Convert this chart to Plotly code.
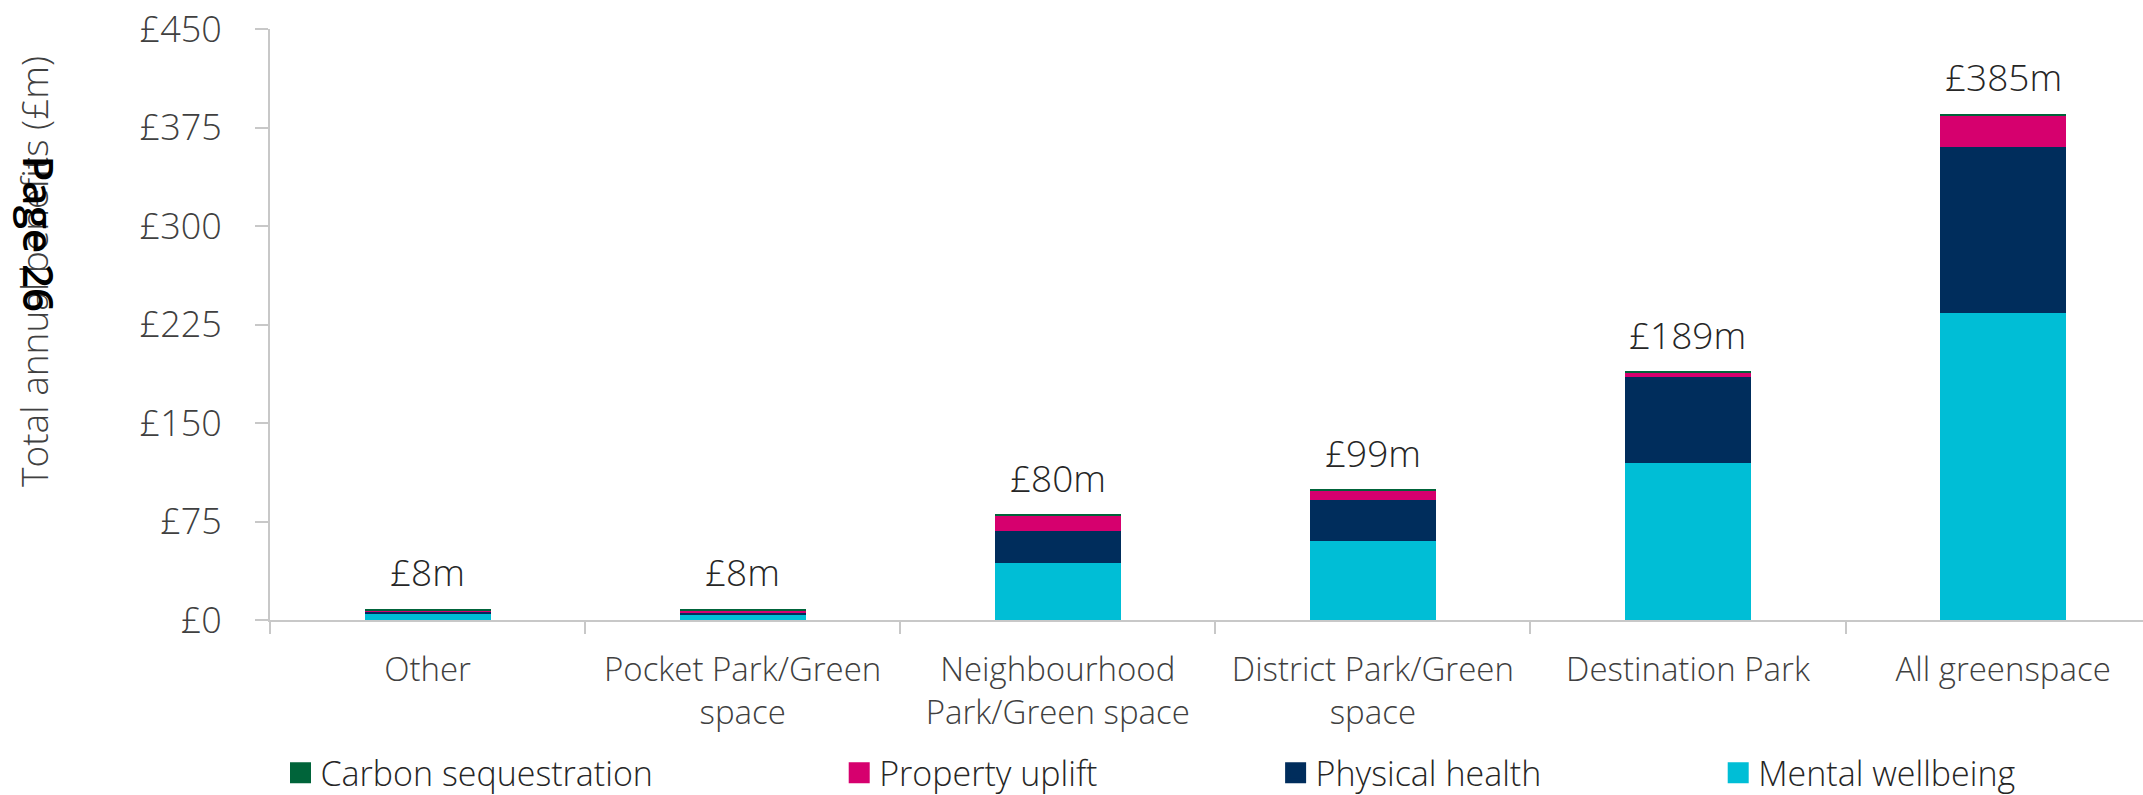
import plotly.graph_objects as go

# Categories of greenspace and their x-axis labels
categories = ["Other", "Pocket Park", "Neighbourhood Park", "District Park",
              "Destination Park", "All greenspace"]
tick_labels = ["Other", "Pocket Park/Green<br>space", "Neighbourhood<br>Park/Green space",
               "District Park/Green<br>space", "Destination Park", "All greenspace"]

# Annual benefit components (£m), stacked bottom to top
mental_wellbeing = [4.3, 3.6, 43.5, 59.8, 119.5, 233.4]
physical_health = [1.8, 2.0, 24.2, 31.6, 65.5, 126.6]
property_uplift = [1.3, 1.8, 11.6, 7.0, 3.4, 24.0]
carbon_sequestration = [0.6, 0.6, 0.7, 0.6, 0.6, 1.0]

y_ticks = [0, 75, 150, 225, 300, 375, 450]

series = [
    ("Mental wellbeing", mental_wellbeing, "#00BED6", "legend4"),
    ("Physical health", physical_health, "#002D5C", "legend3"),
    ("Property uplift", property_uplift, "#D6006E", "legend2"),
    ("Carbon sequestration", carbon_sequestration, "#00643A", "legend"),
]

FONT = "Open Sans"
TEXT = "#262626"
AXIS = "#c8c8c8"
W = 300  # light text weight

fig = go.Figure()
for name, vals, color, lg in series:
    fig.add_trace(go.Bar(x=categories, y=vals, name=name, marker_color=color,
                         marker_line_width=0, showlegend=False))

# Legend entries with larger square swatches
for name, vals, color, lg in series:
    fig.add_trace(go.Scatter(x=[None], y=[None], mode="markers", name=name,
                             marker=dict(symbol="square", size=16, color=color,
                                         line=dict(color=color, width=5)),
                             legend=lg, showlegend=True))

# Total labels above each stack
totals = [sum(v) for v in zip(mental_wellbeing, physical_health,
                              property_uplift, carbon_sequestration)]
for cat, tot in zip(categories, totals):
    fig.add_annotation(x=cat, y=tot, text=f"£{tot:.0f}m", showarrow=False,
                       yanchor="bottom", yshift=10,
                       font=dict(family=FONT, size=37, color=TEXT, weight=W))

# Y-axis title, set a little above the axis centre
fig.add_annotation(xref="paper", yref="paper", x=-0.126, y=0.589,
                   text="Total annual benefits (£m)", textangle=-90, showarrow=False,
                   xanchor="center", yanchor="middle",
                   font=dict(family=FONT, size=37, color="#404040", weight=W))

# Page marker overprinted on the axis title
fig.add_annotation(xref="paper", yref="paper", x=-0.123, y=0.653,
                   text="Page 26", textangle=90, showarrow=False,
                   xanchor="center", yanchor="middle",
                   font=dict(family=FONT, size=42, color="#000000", weight=600))

legend_common = dict(orientation="h", yanchor="middle", y=-0.259, xanchor="left",
                     bgcolor="rgba(0,0,0,0)", borderwidth=0, itemsizing="trace",
                     font=dict(family=FONT, size=34, color=TEXT, weight=W))

fig.update_layout(
    width=2143, height=795,
    margin=dict(l=270, r=0, t=29, b=175, autoexpand=False),
    paper_bgcolor="white", plot_bgcolor="white",
    barmode="stack", bargap=0.6,
    font=dict(family=FONT, color=TEXT),
    legend=dict(x=0.0056, **legend_common),
    legend2=dict(x=0.3039, **legend_common),
    legend3=dict(x=0.5369, **legend_common),
    legend4=dict(x=0.7732, **legend_common),
    xaxis=dict(type="category", range=[-0.5, 5.444], tickmode="array",
               tickvals=categories, ticktext=tick_labels, tickson="boundaries",
               ticks="outside", ticklen=12, tickwidth=2, tickcolor=AXIS,
               showline=True, linecolor=AXIS, linewidth=2, showgrid=False,
               tickfont=dict(family=FONT, size=33, color="#404040", weight=W),
               ticklabelstandoff=19),
    yaxis=dict(range=[0, 450], tickmode="array", tickvals=y_ticks,
               ticktext=[f"£{v}" for v in y_ticks],
               ticks="outside", ticklen=13, tickwidth=2, tickcolor=AXIS,
               showline=True, linecolor=AXIS, linewidth=2, showgrid=False,
               zeroline=False, ticklabelstandoff=26,
               tickfont=dict(family=FONT, size=36, color="#404040", weight=W)),
)

fig.write_html("out.html")
